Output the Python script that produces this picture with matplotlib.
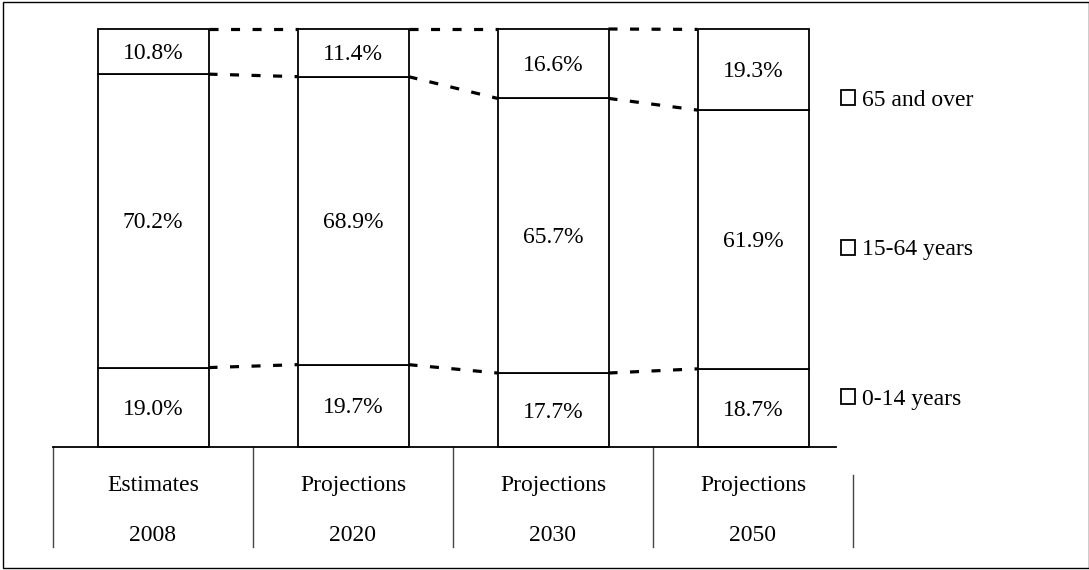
import numpy as np
import matplotlib.pyplot as plt
from matplotlib.patches import Rectangle

plt.rcParams['font.family'] = ['Liberation Serif', 'DejaVu Serif']
plt.rcParams['lines.scale_dashes'] = False

# age structure shares (%), bottom to top
groups = ["0-14 years", "15-64 years", "65 and over"]
kinds = ["Estimates", "Projections", "Projections", "Projections"]
years = ["2008", "2020", "2030", "2050"]
young = [19.0, 19.7, 17.7, 18.7]
working = [70.2, 68.9, 65.7, 61.9]
old = [10.8, 11.4, 16.6, 19.3]

FS = 17
BAR_W = 0.555

fig = plt.figure(figsize=(10.89, 5.70), dpi=100)
W, H = 1089, 570
ax = fig.add_axes([53 / W, (H - 447) / H, 800 / W, 418 / H])

x = np.arange(len(years))
series = [young, working, old]
bottom = np.zeros(len(years))
bars = []
for vals, name in zip(series, groups):
    vals = np.array(vals)
    b = ax.bar(x, vals, BAR_W, bottom=bottom, color="white",
               edgecolor="black", linewidth=1.3, label=name, zorder=2)
    for p in b.patches:
        p.set_clip_on(False)
    bars.append(b)
    for xi, v, b0 in zip(x, vals, bottom):
        ax.annotate(f"{v:.1f}%", (xi, b0 + v / 2), xytext=(0, -1.5),
                    textcoords="offset points", ha="center", va="center",
                    fontsize=FS, zorder=3)
    bottom = bottom + vals
    # dashed series lines between neighbouring bars
    for i in range(len(years) - 1):
        ax.plot([x[i] + BAR_W / 2, x[i + 1] - BAR_W / 2],
                [bottom[i], bottom[i + 1]], color="black", linewidth=2.3,
                dashes=(6.5, 9.0), dash_capstyle="butt", zorder=1,
                clip_on=False)

ax.set_xlim(-0.5, len(years) - 0.5)
ax.set_ylim(0, 100)
for s in ax.spines.values():
    s.set_visible(False)
ax.set_xticks([])
ax.set_yticks([])

# category axis with two-level labels
ax.axhline(0, xmin=0, xmax=783 / 800, color="black", linewidth=1.3,
           clip_on=False, zorder=4)
trans = ax.get_xaxis_transform()
for k in range(len(years)):
    ax.plot([k - 0.5, k - 0.5], [0, -0.239], transform=trans,
            color="#444444", linewidth=1.0, clip_on=False)
    ax.text(x[k], -0.093, kinds[k], transform=trans, ha="center",
            va="center", fontsize=FS)
    ax.text(x[k], -0.212, years[k], transform=trans, ha="center",
            va="center", fontsize=FS)
ax.plot([len(years) - 0.5] * 2, [-0.067, -0.239], transform=trans,
        color="#444444", linewidth=1.0, clip_on=False)

fig.legend(handles=bars[::-1], labels=groups[::-1], loc="center left",
           bbox_to_anchor=(841 / W, (H - 250) / H), frameon=False,
           fontsize=FS, handlelength=0.6, handleheight=0.6,
           handletextpad=0.3, labelspacing=5.45, borderpad=0,
           borderaxespad=0)

fig.patches.append(Rectangle((3 / W, 2 / H), 1085.5 / W, 566 / H,
                             transform=fig.transFigure, fill=False,
                             edgecolor="black", linewidth=1.0))

fig.savefig("out.png", dpi=100)
